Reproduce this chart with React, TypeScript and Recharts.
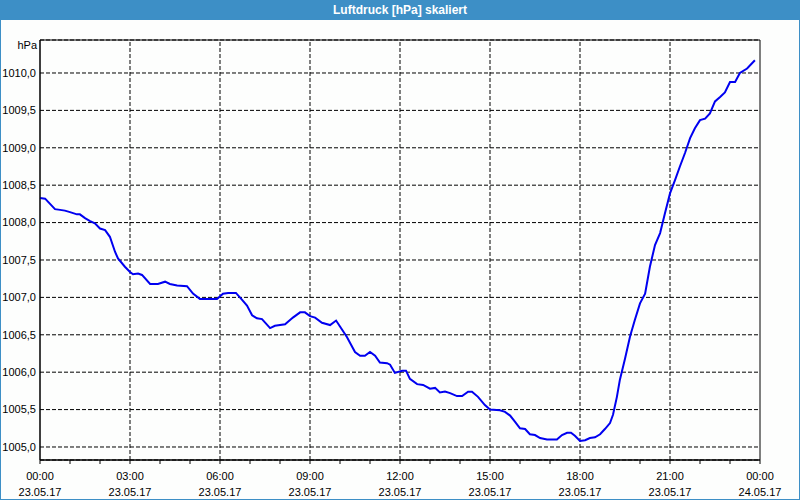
import {
  LineChart,
  Line,
  XAxis,
  YAxis,
  CartesianGrid,
  ReferenceLine,
  ReferenceArea,
} from 'recharts';

// hours since 23.05.17 00:00
const hours = [
  0, 0.17, 0.5, 0.67, 0.83, 1.0, 1.23, 1.33, 1.5, 1.67, 1.83, 2.0, 2.17, 2.33, 2.5, 2.6, 2.83,
  3.0, 3.1, 3.27, 3.4, 3.67, 3.93, 4.17, 4.33, 4.57, 4.9, 5.1, 5.33, 5.9,
  6.1, 6.27, 6.53, 6.73, 6.9, 7.07, 7.23, 7.4, 7.67, 7.83, 8.17, 8.43, 8.67, 8.83,
  9.0, 9.17, 9.4, 9.67, 9.87, 10.0, 10.23, 10.5, 10.67, 10.83, 11.0, 11.17, 11.33, 11.57, 11.67, 11.83,
  12.07, 12.2, 12.33, 12.57, 12.77, 13.0, 13.17, 13.33, 13.5, 13.67, 13.9, 14.07, 14.27, 14.4, 14.6, 14.83,
  15.0, 15.33, 15.5, 15.67, 15.83, 16.0, 16.17, 16.33, 16.5, 16.67, 16.9, 17.23, 17.4, 17.57, 17.7, 17.83,
  18.0, 18.17, 18.33, 18.5, 18.67, 18.83, 19.0, 19.1, 19.23, 19.33, 19.5, 19.67, 19.83, 20.0, 20.17, 20.33,
  20.5, 20.67, 20.83, 21.0, 21.17, 21.33, 21.5, 21.67, 21.83, 22.0, 22.17, 22.33, 22.5, 22.67, 22.83,
  23.0, 23.17, 23.33, 23.57, 23.83,
];

const pressure = [
  1008.33, 1008.32, 1008.18, 1008.17, 1008.16, 1008.14, 1008.11, 1008.11, 1008.06, 1008.02, 1007.99, 1007.92, 1007.9, 1007.81, 1007.61, 1007.52, 1007.41,
  1007.34, 1007.31, 1007.32, 1007.3, 1007.18, 1007.18, 1007.21, 1007.18, 1007.16, 1007.15, 1007.05, 1006.98, 1006.98,
  1007.05, 1007.06, 1007.06, 1006.97, 1006.89, 1006.76, 1006.72, 1006.71, 1006.59, 1006.62, 1006.64, 1006.73, 1006.8, 1006.8,
  1006.75, 1006.73, 1006.66, 1006.63, 1006.69, 1006.61, 1006.47, 1006.27, 1006.22, 1006.22, 1006.27, 1006.22, 1006.13, 1006.12, 1006.1, 1005.99,
  1006.02, 1006.02, 1005.91, 1005.84, 1005.83, 1005.78, 1005.79, 1005.73, 1005.74, 1005.72, 1005.68, 1005.68, 1005.74, 1005.74, 1005.67, 1005.56,
  1005.5, 1005.49, 1005.47, 1005.42, 1005.34, 1005.25, 1005.24, 1005.17, 1005.16, 1005.12, 1005.1, 1005.1, 1005.16, 1005.19, 1005.19, 1005.15,
  1005.08, 1005.09, 1005.12, 1005.13, 1005.17, 1005.24, 1005.32, 1005.43, 1005.67, 1005.9, 1006.18, 1006.48, 1006.7, 1006.92, 1007.05, 1007.41,
  1007.7, 1007.86, 1008.12, 1008.39, 1008.57, 1008.75, 1008.93, 1009.13, 1009.26, 1009.37, 1009.39, 1009.46, 1009.62, 1009.68, 1009.74,
  1009.88, 1009.88, 1010.0, 1010.06, 1010.17,
];

const hourTicks = Array.from({ length: 25 }, (_, i) => i);
const gridHours = [3, 6, 9, 12, 15, 18, 21];
const yTicks = [1005, 1005.5, 1006, 1006.5, 1007, 1007.5, 1008, 1008.5, 1009, 1009.5, 1010];
const yDomain = [1004.826, 1010.441];
const timeLabels = ['00:00', '03:00', '06:00', '09:00', '12:00', '15:00', '18:00', '21:00', '00:00'];
const dateLabels = ['23.05.17', '23.05.17', '23.05.17', '23.05.17', '23.05.17', '23.05.17', '23.05.17', '23.05.17', '24.05.17'];

const data = hours.map((h, i) => ({ h, p: pressure[i] }));

const FONT = '"Liberation Sans", Arial, sans-serif';

const HourTick = (props: any) => {
  const { x, y, payload } = props;
  const v = payload.value;
  if (v % 3 !== 0) return null;
  const idx = v / 3;
  return (
    <g>
      <text x={x} y={y + 14} textAnchor="middle" fontSize={11} fontFamily={FONT} fill="#000">
        {timeLabels[idx]}
      </text>
      <text x={x} y={y + 30} textAnchor="middle" fontSize={11} fontFamily={FONT} fill="#000">
        {dateLabels[idx]}
      </text>
    </g>
  );
};

export default function App() {
  return (
    <div
      style={{
        position: 'absolute',
        left: 0,
        top: 0,
        width: 800,
        height: 500,
        background: '#fdfefd',
        boxSizing: 'border-box',
        border: '1px solid #3d8fc6',
        borderTop: 'none',
        fontFamily: FONT,
      }}
    >
      <div
        style={{
          position: 'absolute',
          left: -1,
          top: 0,
          width: 800,
          height: 20,
          background: '#3d8fc6',
          color: '#fff',
          fontWeight: 'bold',
          fontSize: 12,
          lineHeight: '20px',
          textAlign: 'center',
        }}
      >
        Luftdruck [hPa] skaliert
      </div>
      <div
        style={{
          position: 'absolute',
          left: -1,
          top: 39,
          width: 37,
          textAlign: 'right',
          fontSize: 11,
          color: '#000',
        }}
      >
        hPa
      </div>
      <div style={{ position: 'absolute', left: -1, top: 0 }}>
        <LineChart
          width={800}
          height={500}
          data={data}
          margin={{ top: 40, right: 40, bottom: 0, left: 0 }}
        >
          <CartesianGrid vertical={false} stroke="#000" strokeDasharray="4 2" />
          {gridHours.map((g) => (
            <ReferenceLine key={g} x={g} stroke="#000" strokeDasharray="4 2" />
          ))}
          <XAxis
            dataKey="h"
            type="number"
            domain={[0, 24]}
            ticks={hourTicks}
            interval={0}
            height={40}
            tickSize={4}
            stroke="#000"
            tick={<HourTick />}
          />
          <YAxis
            type="number"
            domain={yDomain}
            ticks={yTicks}
            interval={0}
            width={40}
            tickLine={false}
            tickSize={0}
            tickMargin={4}
            stroke="#000"
            tick={{ fontSize: 11, fontFamily: FONT, fill: '#000' }}
            tickFormatter={(v: number) => v.toFixed(1).replace('.', ',')}
          />
          <ReferenceArea
            x1={0}
            x2={24}
            y1={yDomain[0]}
            y2={yDomain[1]}
            fill="none"
            fillOpacity={0}
            stroke="#000"
            strokeWidth={1}
          />
          <Line
            type="linear"
            dataKey="p"
            stroke="#0000f0"
            strokeWidth={2}
            dot={false}
            isAnimationActive={false}
          />
        </LineChart>
      </div>
    </div>
  );
}
